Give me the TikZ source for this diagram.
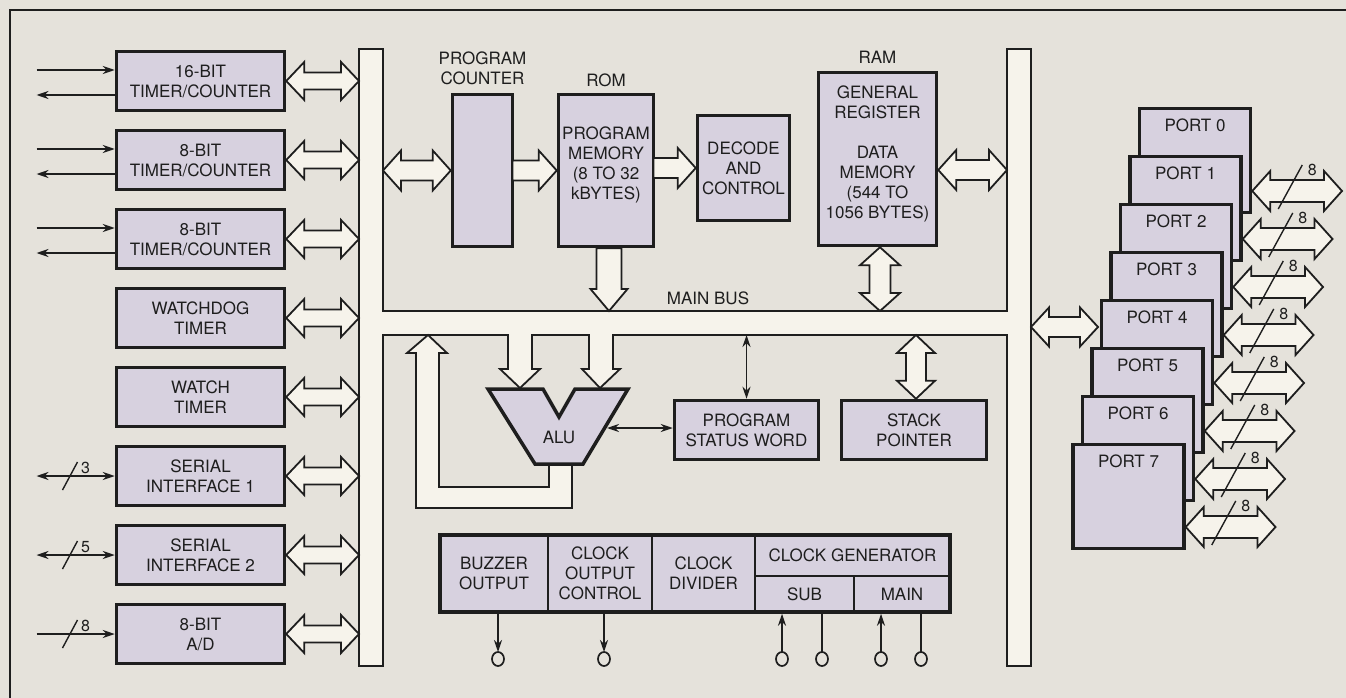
\documentclass[tikz,border=0pt]{standalone}
\usepackage{fontspec}
\setmainfont{TeX Gyre Heros}
\usetikzlibrary{arrows.meta,calc,shapes.geometric}
\definecolor{bgc}{HTML}{E5E2DB}
\definecolor{boxc}{HTML}{D7D1DF}
\definecolor{busc}{HTML}{F6F3EB}
\definecolor{ink}{HTML}{1E1E1E}
% horizontal double hollow arrow: #1 left end, #2 right end (y of #1), #3 shaft half, #4 head half, #5 head length
\newcommand\hdH[5]{\draw[hol] let \p1=(#1), \p2=(#2) in (\x1,\y1) -- (\x1+#5,\y1+#4) -- (\x1+#5,\y1+#3) -- (\x2-#5,\y1+#3) -- (\x2-#5,\y1+#4) -- (\x2,\y1) -- (\x2-#5,\y1-#4) -- (\x2-#5,\y1-#3) -- (\x1+#5,\y1-#3) -- (\x1+#5,\y1-#4) -- cycle;}
% horizontal single hollow arrow pointing right
\newcommand\hsR[5]{\draw[hol] let \p1=(#1), \p2=(#2) in (\x1,\y1+#3) -- (\x2-#5,\y1+#3) -- (\x2-#5,\y1+#4) -- (\x2,\y1) -- (\x2-#5,\y1-#4) -- (\x2-#5,\y1-#3) -- (\x1,\y1-#3) -- cycle;}
% vertical double hollow arrow: #1 top, #2 bottom (x of #1)
\newcommand\vdV[5]{\draw[hol] let \p1=(#1), \p2=(#2) in (\x1,\y1) -- (\x1+#4,\y1-#5) -- (\x1+#3,\y1-#5) -- (\x1+#3,\y2+#5) -- (\x1+#4,\y2+#5) -- (\x1,\y2) -- (\x1-#4,\y2+#5) -- (\x1-#3,\y2+#5) -- (\x1-#3,\y1-#5) -- (\x1-#4,\y1-#5) -- cycle;}
% vertical single hollow arrow pointing down
\newcommand\vsD[5]{\draw[hol] let \p1=(#1), \p2=(#2) in (\x1-#3,\y1) -- (\x1-#3,\y2+#5) -- (\x1-#4,\y2+#5) -- (\x1,\y2) -- (\x1+#4,\y2+#5) -- (\x1+#3,\y2+#5) -- (\x1+#3,\y1) -- cycle;}
\begin{document}
\begin{tikzpicture}[x=1pt,y=-1pt,
  every node/.style={font=\fontsize{17}{20}\selectfont, text=ink, inner sep=0pt, outer sep=0pt, align=center},
  box/.style={draw=ink, fill=boxc, line width=3.5pt},
  cell/.style={draw=ink, fill=boxc, line width=1.8pt},
  hol/.style={draw=ink, fill=busc, line width=1.8pt, line join=miter},
  arr/.style={draw=ink, line width=1.6pt, -{Stealth[length=12pt,width=8pt]}},
  darr/.style={draw=ink, line width=1.6pt, {Stealth[length=12pt,width=8pt]}-{Stealth[length=12pt,width=8pt]}},
  slash/.style={draw=ink, line width=1.4pt},
  small/.style={font=\fontsize{16}{18}\selectfont},
  pin/.style={ellipse, draw=ink, fill=bgc, line width=1.7pt, minimum width=12pt, minimum height=14pt},
]
\fill[bgc] (0,0) rectangle (1346,698);
\useasboundingbox (0,0) rectangle (1346,698);
\draw[ink, line width=1.5pt] (10,698) -- (10,10) -- (1346,10);

% ---------- bus structure ----------
\node[minimum width=24pt, minimum height=617pt] (lbus) at (371,357.5) {};
\node[minimum width=24pt, minimum height=617pt] (rbus) at (1019,357.5) {};
\node[minimum width=624pt, minimum height=24pt] (mbus) at (695,323) {};
\draw[hol] (359,49) -- (383,49) -- (383,311) -- (1007,311) -- (1007,49) -- (1031,49) -- (1031,666) -- (1007,666) -- (1007,335)
  -- (613,335) -- (613,369) -- (620,369) -- (600,388) -- (582,369) -- (589,369) -- (589,335)
  -- (532,335) -- (532,369) -- (540,369) -- (520,388) -- (500,369) -- (508,369) -- (508,335)
  -- (383,335) -- (383,666) -- (359,666) -- cycle;
\node (mbl) at (708,298) {MAIN BUS};

% ALU return path
\draw[hol] (428,335) -- (447,353) -- (439,353) -- (439,487) -- (549,487) -- (549,464) -- (572,464) -- (572,508) -- (416,508) -- (416,353) -- (407,353) -- cycle;

% ---------- left peripherals ----------
\node[box, minimum width=168pt, minimum height=59pt] (t1) at (200.5,81) {16-BIT\\TIMER/COUNTER};
\node[box, minimum width=168pt, minimum height=59pt] (t2) at (200.5,160) {8-BIT\\TIMER/COUNTER};
\node[box, minimum width=168pt, minimum height=59pt] (t3) at (200.5,239) {8-BIT\\TIMER/COUNTER};
\node[box, minimum width=168pt, minimum height=59pt] (wd) at (200.5,318) {WATCHDOG\\TIMER};
\node[box, minimum width=168pt, minimum height=59pt] (wt) at (200.5,397) {WATCH\\TIMER};
\node[box, minimum width=168pt, minimum height=59pt] (s1) at (200.5,476) {SERIAL\\INTERFACE 1};
\node[box, minimum width=168pt, minimum height=59pt] (s2) at (200.5,555) {SERIAL\\INTERFACE 2};
\node[box, minimum width=168pt, minimum height=59pt] (ad) at (200.5,634) {8-BIT\\A/D};
\foreach \bx in {t1,t2,t3,wd,wt,s1,s2,ad} {
  \coordinate (\bx A) at ([shift={(1.75,0)}]\bx.east);
  \coordinate (\bx B) at (\bx.east -| lbus.west);
  \hdH{\bx A}{\bx B}{8.5pt}{19pt}{18pt}
}
\foreach \bx in {t1,t2,t3} {
  \draw[arr] ([shift={(-80,-11)}]\bx.west) -- ([shift={(-1.75,-11)}]\bx.west);
  \draw[arr] ([shift={(-1.75,14)}]\bx.west) -- ([shift={(-80,14)}]\bx.west);
}
\draw[darr] ([shift={(-80,0)}]s1.west) -- ([shift={(-1.75,0)}]s1.west);
\draw[slash] ([shift={(-54,14)}]s1.west) -- ([shift={(-39,-14)}]s1.west);
\node[small] (l3) at ([shift={(-31,-8)}]s1.west) {3};
\draw[darr] ([shift={(-80,0)}]s2.west) -- ([shift={(-1.75,0)}]s2.west);
\draw[slash] ([shift={(-54,14)}]s2.west) -- ([shift={(-39,-14)}]s2.west);
\node[small] (l5) at ([shift={(-31,-8)}]s2.west) {5};
\draw[arr] ([shift={(-80,0)}]ad.west) -- ([shift={(-1.75,0)}]ad.west);
\draw[slash] ([shift={(-54,14)}]ad.west) -- ([shift={(-39,-14)}]ad.west);
\node[small] (l8) at ([shift={(-31,-8)}]ad.west) {8};

% ---------- upper core ----------
\node[box, minimum width=60pt, minimum height=152pt] (pc) at (482.5,170.5) {};
\node (pcl) at (482.5,68) {PROGRAM\\COUNTER};
\node[box, minimum width=95pt, minimum height=152pt] (rom) at (606,170.5) {};
\node (roml) at (606,80) {ROM};
\node (romt) at (606,165) {PROGRAM\\MEMORY\\(8 TO 32\\kBYTES)};
\node[box, minimum width=92pt, minimum height=105pt] (dec) at (743.5,168) {DECODE\\AND\\CONTROL};
\node[box, minimum width=118pt, minimum height=173pt] (ram) at (877.5,159) {};
\node (raml) at (877.5,57) {RAM};
\node (ramt) at (877.5,153.5) {GENERAL\\REGISTER\\[20pt]DATA\\MEMORY\\(544 TO\\1056 BYTES)};

\coordinate (pcA) at (pc.west -| lbus.east);
\coordinate (pcB) at ([shift={(-1.75,0)}]pc.west);
\hdH{pcA}{pcB}{10pt}{20pt}{18pt}
\coordinate (romA) at ([shift={(-1.75,0)}]rom.west);
\hsR{pc.east}{romA}{10pt}{20pt}{18pt}
\coordinate (decA) at (rom.east |- dec.west);
\coordinate (decB) at ([shift={(-1.75,0)}]dec.west);
\hsR{decA}{decB}{10pt}{20pt}{18pt}
\coordinate (ramA) at ([shift={(1.75,11)}]ram.east);
\coordinate (ramC) at (ramA -| rbus.west);
\hdH{ramA}{ramC}{10pt}{20pt}{18pt}
\coordinate (romB) at ([shift={(3,1.75)}]rom.south);
\coordinate (romC) at (romB |- mbus.north);
\vsD{romB}{romC}{12.5pt}{18.5pt}{22pt}
\coordinate (ramB) at ([shift={(2.5,1.75)}]ram.south);
\coordinate (ramD) at (ramB |- mbus.north);
\vdV{ramB}{ramD}{10.5pt}{20pt}{18pt}

% ---------- lower core ----------
\draw[box, line join=miter] (488,389) -- (543,389) -- (559,417) -- (575,389) -- (628,389) -- (583,464) -- (535,464) -- cycle;
\node (alu) at (559,437) {ALU};
\coordinate (aluR) at (607,428);
\node[box, minimum width=144pt, minimum height=59pt] (psw) at (746.5,430) {PROGRAM\\STATUS WORD};
\node[box, minimum width=145pt, minimum height=59pt] (sp) at (914,430) {STACK\\POINTER};
\draw[darr] (psw.north |- mbus.south) -- ([shift={(0,-1.75)}]psw.north);
\draw[darr] (aluR) -- ([shift={(-1.75,0)}]aluR -| psw.west);
\coordinate (spB) at ([shift={(2,-1.75)}]sp.north);
\coordinate (spA) at (spB |- mbus.south);
\vdV{spA}{spB}{10pt}{19pt}{18pt}

% clock block
\node[cell, minimum width=108pt, minimum height=77pt] (buz) at (494,573.5) {BUZZER\\OUTPUT};
\node[cell, minimum width=104pt, minimum height=77pt] (coc) at (600,573.5) {CLOCK\\OUTPUT\\CONTROL};
\node[cell, minimum width=103pt, minimum height=77pt] (cdv) at (703.5,573.5) {CLOCK\\DIVIDER};
\node[cell, minimum width=195pt, minimum height=41pt] (cgn) at (852.5,555.5) {CLOCK GENERATOR};
\node[cell, minimum width=99pt, minimum height=36pt] (sub) at (804.5,594) {SUB};
\node[cell, minimum width=96pt, minimum height=36pt] (mai) at (902,594) {MAIN};
\draw[ink, line width=3.5pt] (buz.north west) rectangle (mai.south east);

\node[pin] (o1) at (498,659) {};
\node[pin] (o2) at (604,659) {};
\node[pin] (o3) at (782,659) {};
\node[pin] (o4) at (822,659) {};
\node[pin] (o5) at (881,659) {};
\node[pin] (o6) at (921,659) {};
\draw[arr] ([shift={(0,1.75)}]o1 |- buz.south) -- (o1.north);
\draw[arr] ([shift={(0,1.75)}]o2 |- coc.south) -- (o2.north);
\draw[arr] (o3.north) -- ([shift={(0,1.75)}]o3 |- sub.south);
\draw[ink, line width=1.6pt] (o4.north) -- ([shift={(0,1.75)}]o4 |- sub.south);
\draw[arr] (o5.north) -- ([shift={(0,1.75)}]o5 |- mai.south);
\draw[ink, line width=1.6pt] (o6.north) -- ([shift={(0,1.75)}]o6 |- mai.south);

% ---------- ports ----------
\coordinate (p4a) at (1098,327);
\coordinate (p4b) at (p4a -| rbus.east);
\hdH{p4b}{p4a}{10pt}{19.5pt}{18pt}
\foreach \i in {0,...,7} {
  \pgfmathsetmacro\px{1195-9.5*\i}
  \pgfmathsetmacro\py{160.5+48*\i}
  \node[box, minimum width=111pt, minimum height=104pt] (p\i) at (\px,\py) {};
  \node (pl\i) at ([shift={(0,17)}]p\i.north) {PORT \i};
}
\foreach \i in {0,...,7} {
  \coordinate (pa\i) at ([shift={(1.75,30.5)}]p\i.east);
  \coordinate (pb\i) at ([shift={(91.5,30.5)}]p\i.east);
  \hdH{pa\i}{pb\i}{11pt}{20pt}{18pt}
  \draw[slash] ([shift={(26,18)}]pa\i) -- ([shift={(50,-26)}]pa\i);
  \node[small] (n\i) at ([shift={(60,-21)}]pa\i) {8};
}
\end{tikzpicture}
\end{document}
